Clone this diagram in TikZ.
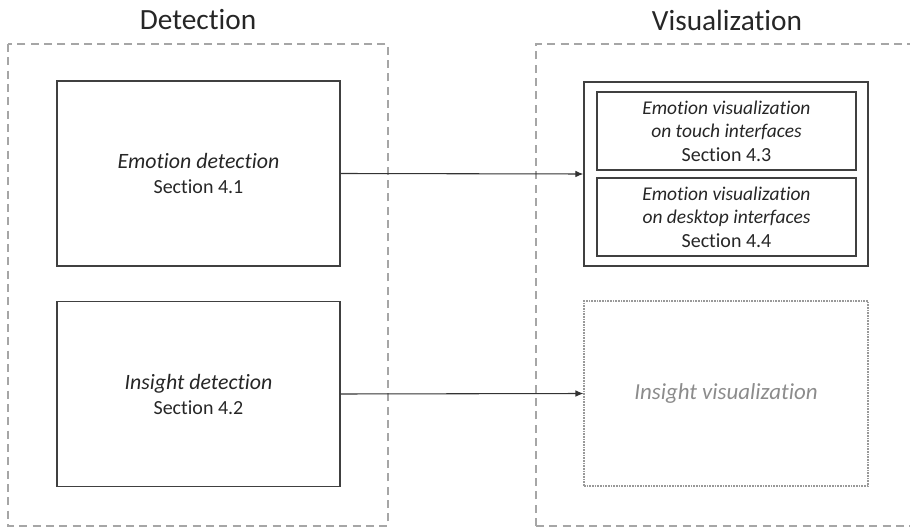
\documentclass[tikz,border=0pt]{standalone}
\usepackage{fontspec}
\setmainfont{Carlito}[Ligatures = NoCommon]
\usetikzlibrary{arrows.meta}

\begin{document}
\begin{tikzpicture}[x = 0.75pt, y = -0.75pt,
	box/.style = {draw = black!75, line width = 1pt, inner sep = 0pt, align = center, text = black!85},
	group/.style = {draw = black!35, line width = 0.8pt, dash pattern = on 6pt off 4pt},
	flow/.style = {draw = black!80, line width = 0.8pt, -{Latex[length = 6pt, width = 5pt]}}]
	 \useasboundingbox (0, 0) rectangle (910, 527);
	 
	 \draw[group] (8, 44) rectangle (388, 526);
	 \draw[group] (536, 526) -- (536, 44) -- (915, 44);
	 \draw[group] (536, 526) -- (915, 526);
	 \node[text = black!85] (detTitle) at (198, 20) {\fontsize{22}{26}\selectfont Detection};
	 \node[text = black!85] (visTitle) at (727, 20) {\fontsize{22}{26}\selectfont Visualization};
	 
	 \node[box, minimum width = 212.25pt, minimum height = 138.75pt, font = \fontsize{15}{18.75}\selectfont] (emoDet) at (198.5, 173.5) {{\fontsize{16.4}{18.75}\selectfont\itshape Emotion detection}\\Section 4.1};
	 \node[box, minimum width = 212.25pt, minimum height = 138.75pt, font = \fontsize{15}{18.75}\selectfont] (insDet) at (198.5, 394) {{\fontsize{16.4}{18.75}\selectfont\itshape Insight detection}\\Section 4.2};
	 
	 \node[box, minimum width = 213pt, minimum height = 138pt] (emoVis) at (726, 174) {};
	 \node[box, minimum width = 194.25pt, minimum height = 58.5pt, font = \fontsize{15}{17.6}\selectfont] (touchVis) at (726.5, 131) {{\fontsize{14.6}{17.6}\selectfont\itshape Emotion visualization}\\{\fontsize{14.6}{17.6}\selectfont\itshape on touch interfaces}\\Section 4.3};
	 \node[box, minimum width = 194.25pt, minimum height = 58.5pt, font = \fontsize{15}{17.6}\selectfont] (deskVis) at (726.5, 217) {{\fontsize{14.6}{17.6}\selectfont\itshape Emotion visualization}\\{\fontsize{14.6}{17.6}\selectfont\itshape on desktop interfaces}\\Section 4.4};
	 \node[box, draw = black!40, line width = 0.8pt, dash pattern = on 1.2pt off 0.8pt, text = black!45, minimum width = 213pt, minimum height = 138.75pt, font = \fontsize{17.2}{20}\selectfont] (insVis) at (726, 393.5) {\textit{Insight visualization}};
	 
	 \draw[flow] (emoDet.east) -- (emoVis.west);
	 \draw[flow] (insDet.east) -- (insVis.west);
\end{tikzpicture}
\end{document}
